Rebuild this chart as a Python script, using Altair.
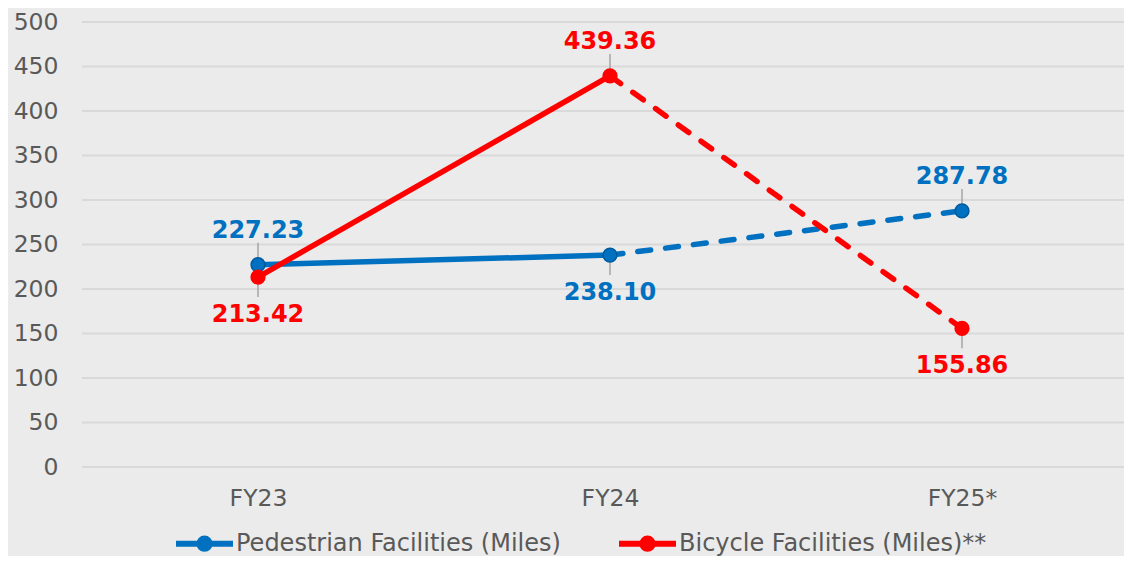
import altair as alt
import pandas as pd

years = ["FY23", "FY24", "FY25*"]
series = ["Pedestrian Facilities (Miles)", "Bicycle Facilities (Miles)**"]
pedestrian = [227.23, 238.10, 287.78]
bicycle = [213.42, 439.36, 155.86]
ped_label_side = ["above", "below", "above"]
bike_label_side = ["below", "above", "below"]
colors = ["#0070C0", "#FF0000"]
marker_edges = ["#005A9E", "#FF0000"]
y_ticks = [0, 50, 100, 150, 200, 250, 300, 350, 400, 450, 500]

rows = []
for name, vals, sides in [(series[0], pedestrian, ped_label_side),
                          (series[1], bicycle, bike_label_side)]:
    for i, (yr, v, s) in enumerate(zip(years, vals, sides)):
        rows.append(dict(series=name, year=yr, value=v, side=s, idx=i))
df = pd.DataFrame(rows)
grid_df = pd.DataFrame({"value": y_ticks})

solid_df = df[df.idx <= 1]
dashed_df = df[df.idx >= 1]

FONT = "DejaVu Sans"
GREY = "#595959"

legend_path = ("M-1,0L1,0"
               "M0.18,0A0.18,0.18,0,1,1,-0.18,0A0.18,0.18,0,1,1,0.18,0"
               "M0.08,0A0.08,0.08,0,1,1,-0.08,0A0.08,0.08,0,1,1,0.08,0")

x_enc = alt.X("year:N", sort=years,
              scale=alt.Scale(type="point", range=[176, 880], padding=0),
              axis=alt.Axis(title=None, labelFont=FONT, labelFontSize=23.5,
                            labelColor=GREY, labelPadding=19, ticks=False,
                            domain=False, grid=False, labelAngle=0))
y_scale = alt.Scale(domain=[0, 500], nice=False, zero=True)
y_axis = alt.Axis(title=None, values=y_ticks,
                  labelFont=FONT, labelFontSize=23.5, labelColor=GREY,
                  labelPadding=24, ticks=False, domain=False, grid=False)
y_enc = alt.Y("value:Q", scale=y_scale, axis=y_axis)
color_scale = alt.Scale(domain=series, range=colors)

legend = alt.Legend(title=None, orient="none", legendX=91, legendY=490,
                    direction="horizontal", symbolType=legend_path,
                    symbolSize=3249, symbolStrokeWidth=6,
                    labelFont=FONT, labelFontSize=24, labelColor=GREY,
                    labelOffset=0, columnPadding=46, labelLimit=0)

grid = alt.Chart(grid_df).mark_rule(color="#D9D9D9", strokeWidth=2).encode(
    y=y_enc)

solid = alt.Chart(solid_df).mark_line(strokeWidth=5.5).encode(
    x=x_enc, y=y_enc,
    color=alt.Color("series:N", scale=color_scale, legend=legend))

dashed = alt.Chart(dashed_df).mark_line(strokeWidth=5.5, strokeDash=[13, 15],
                                        strokeCap="round").encode(
    x=x_enc, y=y_enc,
    color=alt.Color("series:N", scale=color_scale, legend=None))

points = alt.Chart(df).mark_point(size=190, filled=True, opacity=1,
                                  strokeWidth=1.5, shape="circle").encode(
    x=x_enc, y=y_enc,
    fill=alt.Fill("series:N", scale=color_scale, legend=None),
    stroke=alt.Stroke("series:N",
                      scale=alt.Scale(domain=series, range=marker_edges),
                      legend=None))

above = df[df.side == "above"]
below = df[df.side == "below"]

lead_above = alt.Chart(above).mark_rule(color="#A6A6A6", strokeWidth=1.5,
                                        yOffset=-4, y2Offset=-22).encode(
    x=x_enc, y=y_enc, y2="value:Q")
lead_below = alt.Chart(below).mark_rule(color="#A6A6A6", strokeWidth=1.5,
                                        yOffset=4, y2Offset=20).encode(
    x=x_enc, y=y_enc, y2="value:Q")

text_above = alt.Chart(above).mark_text(dy=-27, baseline="alphabetic",
                                        font=FONT, fontSize=24,
                                        fontWeight="bold").encode(
    x=x_enc, y=y_enc, text=alt.Text("value:Q", format=".2f"),
    color=alt.Color("series:N", scale=color_scale, legend=None))
text_below = alt.Chart(below).mark_text(dy=45, baseline="alphabetic",
                                        font=FONT, fontSize=24,
                                        fontWeight="bold").encode(
    x=x_enc, y=y_enc, text=alt.Text("value:Q", format=".2f"),
    color=alt.Color("series:N", scale=color_scale, legend=None))

chart = alt.layer(grid, lead_above, lead_below, solid, dashed, points,
                  text_above, text_below).resolve_scale(
    stroke="independent").properties(
    width=1042, height=445,
    autosize=alt.AutoSizeParams(type="none"),
    padding={"left": 74, "top": 14, "right": 0, "bottom": 89},
    background="#EBEBEB",
).configure_view(stroke=None)

chart.save("out.html", embed_options={"renderer": "svg", "actions": False})
